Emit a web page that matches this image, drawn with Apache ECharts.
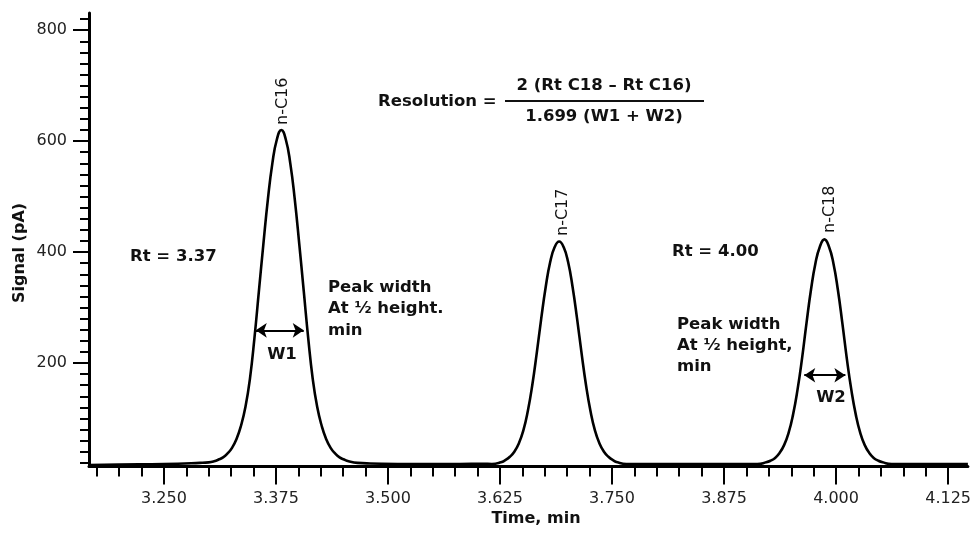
<!DOCTYPE html>
<html>
<head>
<meta charset="utf-8">
<script src="https://cdn.jsdelivr.net/npm/echarts@6/dist/echarts.min.js"></script>
<style>
html,body{margin:0;padding:0;background:#fff;}
#box{width:974px;height:550px;}
</style>
</head>
<body>
<div id="box"></div>
<script>
// chromatogram
var times = [3.1664,3.200,3.250,3.290,3.300,
	3.306,3.311,3.316,3.321,3.326,3.331,3.336,3.341,3.346,3.351,3.356,3.361,3.366,3.371,3.376,3.381,
	3.386,3.391,3.396,3.401,3.406,3.411,3.416,3.421,3.426,3.431,3.436,3.441,3.446,3.451,3.456,3.466,3.480,
	3.530,3.580,3.606,
	3.616,3.626,3.631,3.636,3.641,3.646,3.651,3.656,3.661,3.666,3.671,3.676,3.681,3.686,3.691,
	3.696,3.701,3.706,3.711,3.716,3.721,3.726,3.731,3.736,3.741,3.746,3.751,3.756,3.766,
	3.800,3.860,3.900,
	3.912,3.922,3.927,3.932,3.937,3.942,3.947,3.952,3.957,3.962,3.967,3.972,3.977,3.982,3.987,
	3.992,3.997,4.002,4.007,4.012,4.017,4.022,4.027,4.032,4.037,4.042,4.047,4.052,4.062,
	4.100,4.1471];
var signal = [16,17,18,20,21,
	23,26,30,37,47,63,87,121,172,245,330,415,495,560,603,620,
	603,560,495,415,330,245,172,121,87,63,47,37,30,26,23,20,19,
	18,18,18.5,
	18,21,25,31,40,55,78,113,160,218,280,337,382,409,419,
	409,382,337,280,218,160,113,78,55,40,31,25,21,18,
	18,18,18,
	18,21,24,29,38,52,74,107,152,208,272,332,380,410,423,
	410,380,332,272,208,152,107,74,52,38,29,24,21,18,
	18,18];

var xMajor = [3.250,3.375,3.500,3.625,3.750,3.875,4.000,4.125];
var yMajor = [200,400,600,800];

// W1 / W2 arrows : [t start, t end, signal]
var w1 = [3.3525,3.4060,259];
var w2 = [3.9645,4.0104,178];

var font = '"DejaVu Sans", Verdana, sans-serif';

function steps(from,to,step){
	var arr=[];
	for(var v=from; v<=to+1e-9; v+=step){
		arr.push(Math.round(v*1000)/1000);
	}
	return arr;
}
var xMinor = steps(3.175,4.125,0.025);
var yMinor = steps(20,820,20);

var dom = document.getElementById("box");
var myChart = echarts.init(dom);

var line = [];
for(var i=0;i<times.length;i++){
	line.push([times[i],signal[i]]);
}

function arrow(w){
	return [{coord:[w[0],w[2]]},{coord:[w[1],w[2]]}];
}

function txt(x,y,text,opt){
	opt = opt || {};
	return {
		type:'text',
		x:x, y:y,
		rotation: opt.rot || 0,
		silent:true,
		style:{
			text:text,
			x:0,y:0,
			font:(opt.bold===false?'':'bold ')+(opt.size||16.5)+'px '+font,
			fill:'#111',
			align:opt.align||'left',
			textAlign:opt.align||'left',
			verticalAlign:'middle',
			textVerticalAlign:'middle',
			lineHeight:opt.lh||21
		}
	};
}

var option = {
	animation:false,
	grid:{left:89,right:0,top:13,bottom:83.5},
	xAxis:[
		{
			type:'value', min:3.1664, max:4.1471,
			axisLine:{onZero:false,lineStyle:{color:'#000',width:3}},
			axisTick:{customValues:xMajor,length:18,lineStyle:{color:'#000',width:2}},
			axisLabel:{customValues:xMajor,margin:24,color:'#222',fontSize:16,fontFamily:font,
				formatter:function(v){return v.toFixed(3);}},
			splitLine:{show:false}
		},
		{
			type:'value', min:3.1664, max:4.1471, position:'bottom',
			axisLine:{show:false,onZero:false},
			axisTick:{customValues:xMinor,length:10,lineStyle:{color:'#000',width:2}},
			axisLabel:{show:false},
			splitLine:{show:false}
		}
	],
	yAxis:[
		{
			type:'value', min:13.5, max:831,
			axisLine:{show:true,lineStyle:{color:'#000',width:3}},
			axisTick:{show:true,customValues:yMajor,length:16,lineStyle:{color:'#000',width:2}},
			axisLabel:{customValues:yMajor,margin:22,color:'#222',fontSize:16,fontFamily:font},
			splitLine:{show:false}
		},
		{
			type:'value', min:13.5, max:831, position:'left',
			axisLine:{show:false},
			axisTick:{show:true,customValues:yMinor,length:9,lineStyle:{color:'#000',width:2}},
			axisLabel:{show:false},
			splitLine:{show:false}
		}
	],
	series:[
		{
			type:'line',
			data:line,
			smooth:0.5,
			symbol:'none',
			lineStyle:{color:'#000',width:2.6},
			silent:true,
			markLine:{
				silent:true,
				symbol:['arrow','arrow'],
				symbolSize:11,
				label:{show:false},
				lineStyle:{color:'#000',width:2,type:'solid'},
				data:[arrow(w1),arrow(w2)]
			}
		}
	],
	graphic:[
		txt(283,125,'n-C16',{rot:Math.PI/2,bold:false,size:16}),
		txt(563,236,'n-C17',{rot:Math.PI/2,bold:false,size:16}),
		txt(829.5,233,'n-C18',{rot:Math.PI/2,bold:false,size:16}),
		txt(20,253,'Signal (pA)',{rot:Math.PI/2,align:'center',size:16}),
		txt(536,519,'Time, min',{align:'center',size:16}),
		txt(130,257,'Rt = 3.37'),
		txt(672,252,'Rt = 4.00'),
		txt(328,309,'Peak width\nAt \u00bd height.\nmin',{lh:21.5}),
		txt(677,346,'Peak width\nAt \u00bd height,\nmin',{lh:21}),
		txt(282,355,'W1',{align:'center'}),
		txt(831,398,'W2',{align:'center'}),
		txt(378,102,'Resolution ='),
		txt(604,86,'2 (Rt C18 \u2013 Rt C16)',{align:'center'}),
		txt(604,117,'1.699 (W1 + W2)',{align:'center'}),
		{type:'line',silent:true,shape:{x1:505,y1:101,x2:704,y2:101},style:{stroke:'#111',lineWidth:2}}
	]
};

myChart.setOption(option, true);
</script>
</body>
</html>
